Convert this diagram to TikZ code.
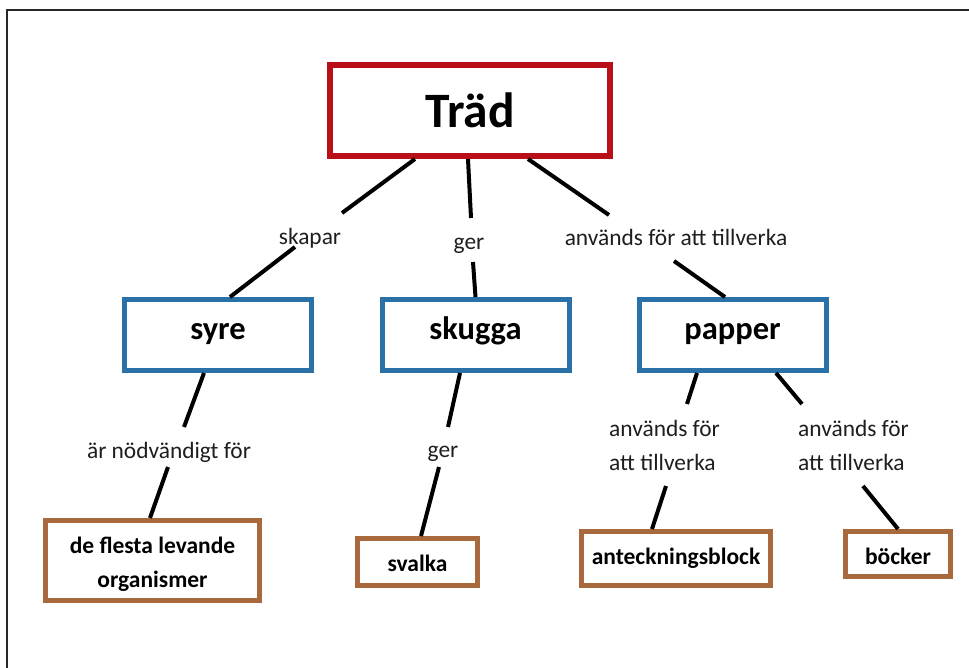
\documentclass[tikz,border=0pt]{standalone}
\usepackage{fontspec}
\setmainfont{Carlito}
\definecolor{tradred}{RGB}{185,15,25}
\definecolor{midblue}{RGB}{41,113,167}
\definecolor{lowbrown}{RGB}{168,106,60}
\definecolor{labgray}{RGB}{30,30,30}
\definecolor{framegray}{RGB}{40,40,40}
\begin{document}
\begin{tikzpicture}[x=1pt,y=-1pt,
  topbox/.style={draw=tradred, line width=6pt, minimum width=280pt, minimum height=91pt,
    inner sep=0pt, font=\fontsize{49.5}{59}\selectfont\bfseries, text height=45pt, text depth=10pt},
  midbox/.style={draw=midblue, line width=5pt, minimum width=187pt, minimum height=71pt,
    inner sep=0pt, font=\fontsize{32.5}{39}\selectfont\bfseries, text height=17pt, text depth=8pt},
  lowbox/.style={draw=lowbrown, line width=5pt, inner sep=0pt,
    font=\fontsize{23.5}{34}\selectfont\bfseries},
  lab/.style={inner sep=0pt, text=labgray, font=\fontsize{23.4}{34}\selectfont},
  conn/.style={draw=black, line width=4pt},
  frameline/.style={draw=framegray, line width=2pt}
]
\useasboundingbox (0,0) rectangle (969,668);
\fill[white] (0,0) rectangle (969,668);
\draw[frameline] (7,668) -- (7,10) -- (969,10);

% boxes
\node[topbox] (trad) at (470,110.5) {Träd};
\node[midbox] (syre) at (218,335) {syre};
\node[midbox] (skugga) at (475.5,335) {skugga};
\node[midbox] (papper) at (732.5,335) {papper};
\node[lowbox, minimum width=214pt, minimum height=80pt, align=center, text height=53pt, text depth=0pt] (flesta) at (152.5,560.5) {de flesta levande\\organismer};
\node[lowbox, minimum width=120pt, minimum height=47pt, text height=22pt, text depth=4pt] (svalka) at (417.5,562) {svalka};
\node[lowbox, minimum width=189pt, minimum height=54pt, text height=15pt, text depth=4pt] (block) at (676,558.5) {anteckningsblock};
\node[lowbox, minimum width=105pt, minimum height=45pt, text height=24pt, text depth=4pt] (bocker) at (898,554) {böcker};

% labels
\node[lab, anchor=base] (l1) at (310,245) {skapar};
\node[lab, anchor=base] (l2) at (469,250) {ger};
\node[lab, anchor=base] (l3) at (676,246) {används för att tillverka};
\node[lab, anchor=base] (l4) at (169,458) {är nödvändigt för};
\node[lab, anchor=base] (l5) at (443,457) {ger};
\node[lab, anchor=base west, align=left] (l6) at (609,470) {används för\\att tillverka};
\node[lab, anchor=base west, align=left] (l7) at (798,470) {används för\\att tillverka};

% connector break points
\coordinate (c1a) at (342,213); \coordinate (c1b) at (295,247);
\coordinate (c2a) at (471,218); \coordinate (c2b) at (473,262);
\coordinate (c3a) at (609,215); \coordinate (c3b) at (674,261);
\coordinate (c4a) at (184,427); \coordinate (c4b) at (168,467);
\coordinate (c5a) at (448,427); \coordinate (c5b) at (439,467);
\coordinate (c6a) at (687,404); \coordinate (c6b) at (666,486);
\coordinate (c7a) at (802,404); \coordinate (c7b) at (863,486);

% connectors
\draw[conn] ([xshift=-55pt]trad.south) -- (c1a);
\draw[conn] (c1b) -- ([xshift=12pt]syre.north);
\draw[conn] ([xshift=-2pt]trad.south) -- (c2a);
\draw[conn] (c2b) -- (skugga.north);
\draw[conn] ([xshift=58pt]trad.south) -- (c3a);
\draw[conn] (c3b) -- ([xshift=-7.5pt]papper.north);
\draw[conn] ([xshift=-14pt]syre.south) -- (c4a);
\draw[conn] (c4b) -- ([xshift=-2.5pt]flesta.north);
\draw[conn] ([xshift=-15.5pt]skugga.south) -- (c5a);
\draw[conn] (c5b) -- ([xshift=3.5pt]svalka.north);
\draw[conn] ([xshift=-35.5pt]papper.south) -- (c6a);
\draw[conn] (c6b) -- ([xshift=-24pt]block.north);
\draw[conn] ([xshift=43.5pt]papper.south) -- (c7a);
\draw[conn] (c7b) -- (bocker.north);
\end{tikzpicture}
\end{document}
